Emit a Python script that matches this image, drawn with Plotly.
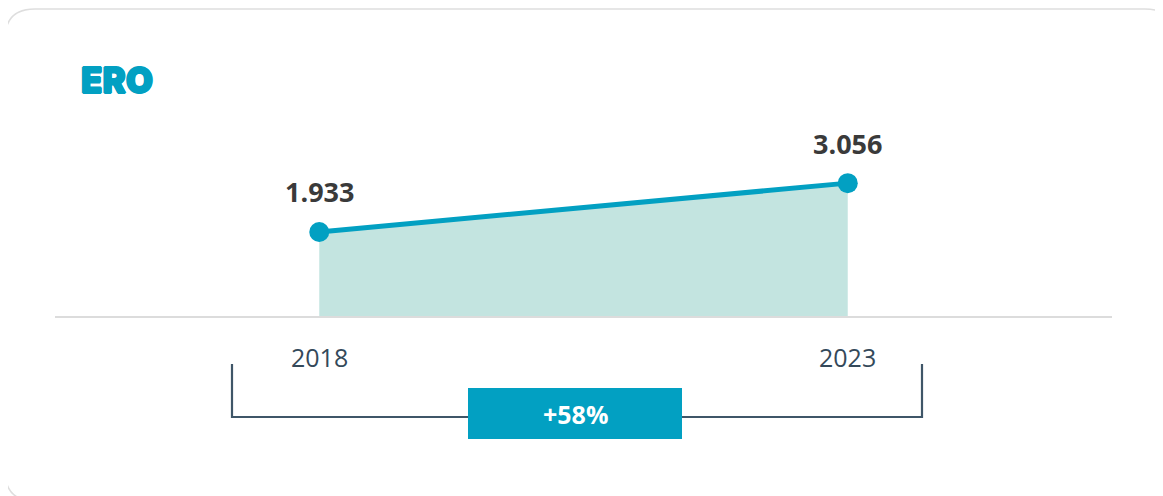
import plotly.graph_objects as go

# data
years = [2018, 2023]
values = [1933, 3056]
value_labels = ["1.933", "3.056"]
year_labels = ["2018", "2023"]
title_text = "ERO"
change_label = "+58%"

TEAL = "#02a0c2"
FILL = "#c3e4e0"
DARK = "#3a3a3a"
SLATE = "#34495a"
BRACKET = "#3f5668"

# the page puts the figure 8px in from the top-left corner
OFF = 8
FIG_W, FIG_H = 1163 - OFF, 496 - OFF
# plot area, in screen pixels
SL, SR, ST, SB = 55, 1112, 100, 316
PL, PR, PT, PB = SL - OFF, SR - OFF, ST - OFF, SB - OFF


def fx(px):
    return (px - SL) / (SR - SL)


def fy(py):
    return (SB - py) / (SB - ST)


def rounded_rect(x0, y0, x1, y1, r):
    rx = r / (SR - SL)
    ry = r / (SB - ST)
    a, b, c, d = fx(x0), fy(y0), fx(x1), fy(y1)
    return (
        f"M {a + rx} {b} L {c - rx} {b} Q {c} {b} {c} {b - ry} "
        f"L {c} {d + ry} Q {c} {d} {c - rx} {d} "
        f"L {a + rx} {d} Q {a} {d} {a} {d + ry} "
        f"L {a} {b - ry} Q {a} {b} {a + rx} {b} Z"
    )


fig = go.Figure()
fig.add_trace(
    go.Scatter(
        x=years,
        y=values,
        mode="lines+markers",
        fill="tozeroy",
        fillcolor=FILL,
        line=dict(color=TEAL, width=5),
        marker=dict(color=TEAL, size=20),
        hoverinfo="skip",
        cliponaxis=False,
    )
)

annotations = []
for x, v, t in zip(years, values, value_labels):
    annotations.append(
        dict(
            x=x, y=v, xref="x", yref="y", text=f"<b>{t}</b>", showarrow=False,
            yanchor="middle", yshift=40,
            font=dict(family="Open Sans", size=27, color=DARK),
        )
    )
for x, t in zip(years, year_labels):
    annotations.append(
        dict(
            x=x, y=fy(357), xref="x", yref="paper", text=t, showarrow=False,
            yanchor="middle",
            font=dict(family="Open Sans", size=25, color=SLATE),
        )
    )
# heavy title: bold face thickened with a same-colour shadow
heavy = ", ".join(f"{dx}px {dy}px 0 {TEAL}" for dx, dy in [(0.8, 0), (-0.8, 0), (0, 0.8), (0, -0.8)])
annotations.append(
    dict(
        x=fx(79), y=fy(79.5), xref="paper", yref="paper", text=title_text,
        showarrow=False, xanchor="left", yanchor="middle",
        font=dict(family="Inter", size=35, color=TEAL, weight=900, shadow=heavy),
    )
)
annotations.append(
    dict(
        x=fx(575), y=fy(414), xref="paper", yref="paper", text=f"<b>{change_label}</b>",
        showarrow=False, xanchor="center", yanchor="middle",
        font=dict(family="Open Sans", size=25, color="white"),
    )
)

shapes = [
    # card
    dict(type="path", xref="paper", yref="paper",
         path=rounded_rect(5, 9, 1175, 501, 30),
         line=dict(color="#dedede", width=1.5), layer="below"),
    # bracket
    dict(type="path", xref="paper", yref="paper",
         path=f"M {fx(232)} {fy(364)} L {fx(232)} {fy(417)} L {fx(922)} {fy(417)} L {fx(922)} {fy(364)}",
         line=dict(color=BRACKET, width=2.2)),
    # change box
    dict(type="rect", xref="paper", yref="paper",
         x0=fx(468), x1=fx(682), y0=fy(388), y1=fy(439),
         fillcolor=TEAL, line=dict(width=0)),
]

fig.update_layout(
    width=FIG_W,
    height=FIG_H,
    margin=dict(l=PL, r=FIG_W - PR, t=PT, b=FIG_H - PB, pad=0),
    paper_bgcolor="white",
    plot_bgcolor="white",
    showlegend=False,
    xaxis=dict(
        range=[2015.5, 2025.5], showgrid=False, zeroline=False, showticklabels=False,
        showline=True, linecolor="#dcdcdc", linewidth=2, fixedrange=True,
    ),
    yaxis=dict(
        range=[0, 216 * 23], showgrid=False, zeroline=False, showticklabels=False,
        showline=False, fixedrange=True,
    ),
    annotations=annotations,
    shapes=shapes,
)

fig.write_html("out.html")
